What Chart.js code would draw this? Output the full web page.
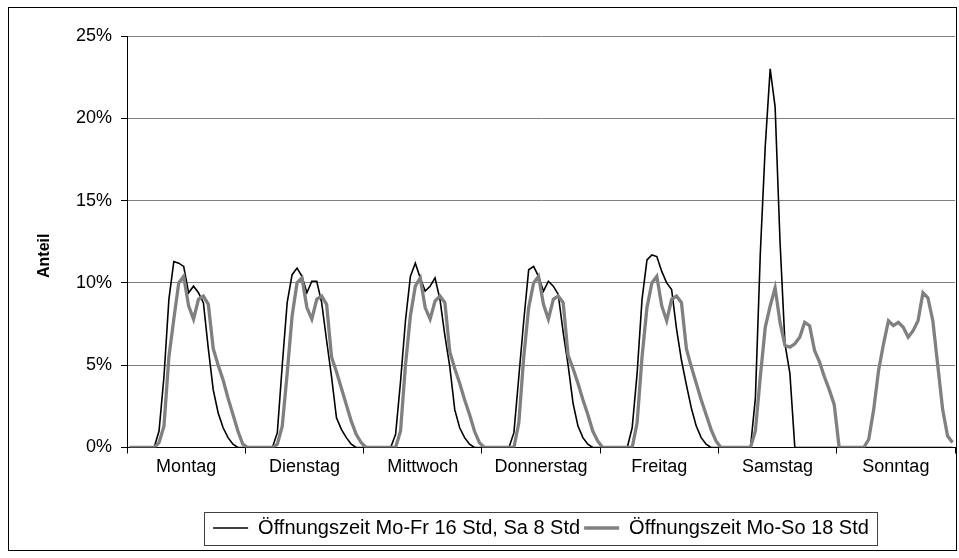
<!DOCTYPE html>
<html lang="de">
<head>
<meta charset="utf-8">
<title>Anteil je Stunde</title>
<script src="https://cdn.jsdelivr.net/npm/chart.js@4.4.1/dist/chart.umd.min.js"></script>
<style>
  html, body { margin: 0; padding: 0; background: #fff; }
  #wrap { width: 959px; height: 558px; }
</style>
</head>
<body>
<div id="wrap"><canvas id="anteilChart"></canvas></div>
<script>
// Wochentage, je 24 Stundenwerte
const tage = ['Montag', 'Dienstag', 'Mittwoch', 'Donnerstag', 'Freitag', 'Samstag', 'Sonntag'];
const yTicks = [0, 5, 10, 15, 20, 25];
const xTicks = [0, 12, 24, 36, 48, 60, 72, 84, 96, 108, 120, 132, 144, 156, 168];

// Anteil in % je Stunde (0-23 Uhr), eine Zeile pro Tag
const moFr16 = [
  0, 0, 0, 0, 0, 0, 1.0, 4.3, 9.0, 11.3, 11.2, 11.0, 9.4, 9.8, 9.4, 8.8, 6.0, 3.5, 2.1, 1.2, 0.6, 0.2, 0, 0,
  0, 0, 0, 0, 0, 0, 0.9, 5.0, 8.8, 10.5, 10.9, 10.4, 9.4, 10.1, 10.1, 8.8, 6.5, 4.3, 1.8, 1.1, 0.6, 0.2, 0, 0,
  0, 0, 0, 0, 0, 0, 0.8, 4.0, 7.7, 10.4, 11.2, 10.3, 9.5, 9.8, 10.3, 9.0, 6.8, 4.9, 2.3, 1.2, 0.6, 0.2, 0, 0,
  0, 0, 0, 0, 0, 0, 0.9, 4.3, 7.7, 10.8, 11.0, 10.4, 9.5, 10.1, 9.8, 9.3, 7.0, 5.0, 2.7, 1.3, 0.6, 0.2, 0, 0,
  0, 0, 0, 0, 0, 0, 1.2, 4.5, 9.0, 11.4, 11.7, 11.6, 10.7, 10.0, 9.6, 7.2, 5.3, 3.8, 2.4, 1.3, 0.6, 0.2, 0, 0,
  0, 0, 0, 0, 0, 0, 0, 3.0, 11.8, 18.3, 23.0, 20.7, 12.5, 6.3, 4.5, 0, 0, 0, 0, 0, 0, 0, 0, 0,
  0, 0, 0, 0, 0, 0, 0, 0, 0, 0, 0, 0, 0, 0, 0, 0, 0, 0, 0, 0, 0, 0, 0, 0
];
const moSo18 = [
  0, 0, 0, 0, 0, 0, 0.3, 1.3, 5.5, 7.8, 10.0, 10.4, 8.6, 7.8, 9.0, 9.2, 8.7, 6.0, 5.0, 4.1, 3.0, 2.0, 1.0, 0.2,
  0, 0, 0, 0, 0, 0, 0.2, 1.3, 4.5, 8.0, 10.0, 10.3, 8.5, 7.8, 9.0, 9.2, 8.7, 5.5, 4.6, 3.6, 2.6, 1.6, 0.8, 0.3,
  0, 0, 0, 0, 0, 0, 0, 1.0, 5.0, 8.0, 9.8, 10.3, 8.5, 7.8, 8.9, 9.2, 8.8, 5.8, 4.8, 3.9, 2.9, 2.0, 1.0, 0.3,
  0, 0, 0, 0, 0, 0, 0, 1.5, 5.5, 8.5, 10.0, 10.4, 8.7, 7.8, 9.0, 9.2, 8.8, 5.6, 4.8, 3.9, 2.9, 2.0, 1.0, 0.4,
  0, 0, 0, 0, 0, 0, 0, 1.5, 5.5, 8.5, 10.0, 10.4, 8.6, 7.7, 9.0, 9.2, 8.8, 6.0, 4.9, 3.9, 2.9, 2.0, 1.1, 0.4,
  0, 0, 0, 0, 0, 0, 0, 1.0, 4.3, 7.3, 8.6, 9.7, 7.6, 6.2, 6.1, 6.3, 6.7, 7.6, 7.4, 5.9, 5.2, 4.3, 3.5, 2.6,
  0, 0, 0, 0, 0, 0, 0.5, 2.3, 4.7, 6.3, 7.7, 7.4, 7.6, 7.3, 6.7, 7.1, 7.7, 9.4, 9.1, 7.7, 5.0, 2.3, 0.7, 0.3
];

Chart.defaults.font.family = 'Arial, "Liberation Sans", sans-serif';
Chart.defaults.font.size = 18;
Chart.defaults.color = '#000';

// Stunde i liegt mittig in ihrem Abschnitt
const punkte = arr => arr.map((v, i) => ({ x: i + 0.5, y: v }));

// Außenrahmen, Rahmen um die Legende und gedrehter Achsentitel
const rahmen = {
  id: 'rahmen',
  afterDraw(chart) {
    const { ctx, chartArea, legend } = chart;
    ctx.save();
    ctx.strokeStyle = '#000';
    ctx.lineWidth = 1;
    ctx.strokeRect(8.5, 7.5, chart.width - 11, chart.height - 15);

    const boxes = legend.legendHitBoxes;
    if (boxes && boxes.length) {
      const l = Math.min(...boxes.map(b => b.left)) - 9;
      const r = Math.max(...boxes.map(b => b.left + b.width)) + 8;
      const t = Math.min(...boxes.map(b => b.top)) - 6.5;
      const btm = Math.max(...boxes.map(b => b.top + b.height)) + 6.5;
      ctx.strokeStyle = '#404040';
      ctx.strokeRect(Math.round(l) + 0.5, Math.round(t) + 0.5, Math.round(r - l), Math.round(btm - t));
    }

    ctx.translate(45, (chartArea.top + chartArea.bottom) / 2 + 14);
    ctx.rotate(-Math.PI / 2);
    ctx.font = 'bold 16px Arial, "Liberation Sans", sans-serif';
    ctx.fillStyle = '#000';
    ctx.textAlign = 'center';
    ctx.textBaseline = 'middle';
    ctx.fillText('Anteil', 0, 0);
    ctx.restore();
  }
};

new Chart(document.getElementById('anteilChart'), {
  type: 'line',
  data: {
    datasets: [{
      label: 'Öffnungszeit Mo-Fr 16 Std, Sa 8 Std',
      data: punkte(moFr16),
      borderColor: '#000',
      backgroundColor: '#000',
      borderWidth: 1.6,
      pointRadius: 0,
      tension: 0,
      order: 1
    }, {
      label: 'Öffnungszeit Mo-So 18 Std',
      data: punkte(moSo18),
      borderColor: '#808080',
      backgroundColor: '#808080',
      borderWidth: 3.3,
      pointRadius: 0,
      tension: 0,
      order: 0
    }]
  },
  options: {
    responsive: true,
    maintainAspectRatio: false,
    animation: false,
    layout: { padding: { top: 36, right: 4, bottom: 10, left: 0 } },
    plugins: {
      tooltip: { enabled: false },
      legend: {
        position: 'bottom',
        fullSize: false,
        labels: {
          usePointStyle: true,
          pointStyle: 'line',
          pointStyleWidth: 35,
          padding: 4,
          color: '#000',
          font: { size: 20 },
          sort: (a, b) => a.datasetIndex - b.datasetIndex
        }
      }
    },
    scales: {
      x: {
        type: 'linear',
        min: 0,
        max: 168,
        afterBuildTicks: scale => { scale.ticks = xTicks.map(v => ({ value: v })); },
        afterFit: scale => { scale.height = 66.5; },
        ticks: {
          autoSkip: false,
          maxRotation: 0,
          padding: 3,
          callback: v => (v % 24 === 12 ? tage[(v - 12) / 24] : '')
        },
        grid: {
          drawOnChartArea: false,
          tickLength: 6,
          tickColor: c => (c.tick && c.tick.value % 24 === 0 ? '#000' : 'rgba(0,0,0,0)')
        },
        border: { color: '#000', width: 1 }
      },
      y: {
        min: 0,
        max: 25,
        afterBuildTicks: scale => { scale.ticks = yTicks.map(v => ({ value: v })); },
        afterFit: scale => { scale.width = 127; },
        ticks: {
          padding: 9,
          callback: v => v + '%'
        },
        grid: {
          color: c => (c.tick && c.tick.value === 0 ? '#000' : '#808080'),
          tickColor: '#000',
          tickLength: 6
        },
        border: { color: '#000', width: 1 }
      }
    }
  },
  plugins: [rahmen]
});
</script>
</body>
</html>
